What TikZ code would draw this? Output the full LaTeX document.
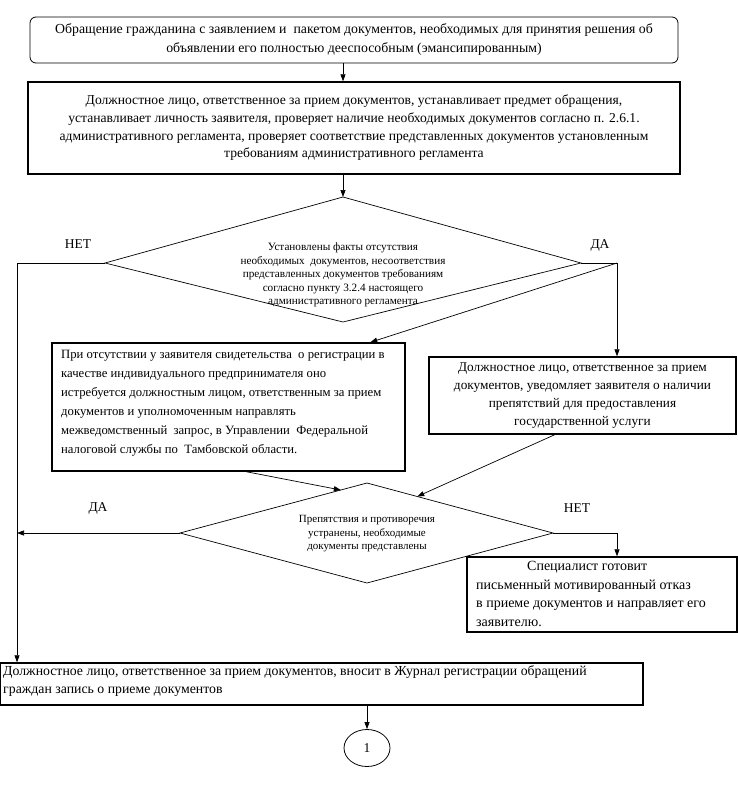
\documentclass[tikz,border=0pt]{standalone}
\usepackage{fontspec}
\setmainfont{Liberation Serif}
\usetikzlibrary{arrows.meta,calc,shapes.geometric}
\begin{document}
\begin{tikzpicture}[x=1pt,y=-1pt,
  conn/.style={line width=0.7pt,-{Triangle[length=7pt,width=5pt]}},
  line/.style={line width=0.7pt},
  boxA/.style={draw,line width=1.4pt,inner sep=0pt},
  tbig/.style={font=\fontsize{12.7}{19}\selectfont},
  lbl/.style={font=\fontsize{13.5}{15}\selectfont}]
\useasboundingbox (0,0) rectangle (738,798);
% top box
\node[draw,rounded corners=6pt,line width=0.8pt,minimum width=648pt,minimum height=46pt,inner sep=0pt,align=center,font=\fontsize{13.8}{19}\selectfont] (top) at (354,40)
  {Обращение гражданина с заявлением и \ пакетом документов, необходимых для принятия решения об\\объявлении его полностью дееспособным (эмансипированным)};
% box 2
\node[boxA,minimum width=652pt,minimum height=92pt,align=center,font=\fontsize{13.6}{17.7}\selectfont] (b2) at (354,128)
  {Должностное лицо, ответственное за прием документов, устанавливает предмет обращения,\\устанавливает личность заявителя, проверяет наличие необходимых документов согласно п. 2.6.1.\\административного регламента, проверяет соответствие представленных документов установленным\\требованиям административного регламента};
% diamond 1
\coordinate (d1t) at (343,197);
\coordinate (d1r) at (581,263);
\coordinate (d1b) at (343,322);
\coordinate (d1l) at (105,263);
\draw[line] (d1t) -- (d1r) -- (d1b) -- (d1l) -- cycle;
\node[align=center,font=\fontsize{11.2}{13.5}\selectfont,inner sep=0pt] (d1) at (343,275)
  {Установлены факты отсутствия\\необходимых \ документов, несоответствия\\представленных документов требованиям\\согласно пункту 3.2.4 настоящего\\административного регламента};
\node[lbl] (net1) at (78,244) {НЕТ};
\node[lbl] (da1) at (600,245) {ДА};
% left box
\node[boxA,minimum width=353pt,minimum height=128pt] (lb) at (228.5,407) {};
\node[align=left,tbig,inner sep=0pt,anchor=west] (lbt) at (61,403.5)
  {При отсутствии у заявителя свидетельства \ о регистрации в\\качестве индивидуального предпринимателя оно\\истребуется должностным лицом, ответственным за прием\\документов и уполномоченным направлять\\межведомственный \ запрос, в Управлении \ Федеральной\\налоговой службы по \ Тамбовской области.};
% right box
\node[boxA,minimum width=307pt,minimum height=77pt,align=center,font=\fontsize{13.3}{18}\selectfont] (rb) at (582.5,395.5)
  {Должностное лицо, ответственное за прием\\документов, уведомляет заявителя о наличии\\препятствий для предоставления\\государственной услуги};
% diamond 2
\coordinate (d2t) at (367,483);
\coordinate (d2r) at (553,533);
\coordinate (d2b) at (367,583);
\coordinate (d2l) at (180,533);
\draw[line] (d2t) -- (d2r) -- (d2b) -- (d2l) -- cycle;
\node[align=center,font=\fontsize{11}{13.5}\selectfont,inner sep=0pt] (d2) at (367,534)
  {Препятствия и противоречия\\устранены, необходимые\\документы представлены};
\node[lbl] (da2) at (98,508) {ДА};
\node[lbl] (net2) at (577,508) {НЕТ};
% specialist box
\node[boxA,minimum width=270pt,minimum height=75pt] (sp) at (602,594.5) {};
\node[align=left,font=\fontsize{14}{18.8}\selectfont,inner sep=0pt,anchor=west] (spt) at (476,594)
  {\hspace*{51pt}Специалист готовит\\письменный мотивированный отказ\\в приеме документов и направляет его\\заявителю.};
% final box
\node[boxA,minimum width=643pt,minimum height=42pt] (fb) at (321.5,684) {};
\node[align=left,font=\fontsize{13.8}{18}\selectfont,inner sep=0pt,anchor=west] (fbt) at (3,681)
  {Должностное лицо, ответственное за прием документов, вносит в Журнал регистрации обращений\\граждан запись о приеме документов};
% circle
\node[draw,ellipse,line width=0.8pt,minimum width=46pt,minimum height=37pt,inner sep=0pt,font=\fontsize{13.5}{15}\selectfont] (c1) at (367,748) {1};
% coordinates
\coordinate (nl) at (17,263);
\coordinate (nr) at (617,263);
\coordinate (n2) at (617,533);
% connectors
\draw[conn] (top.south -| 343,0) -- (b2.north -| 343,0);
\draw[conn] (b2.south -| d1t) -- (d1t);
\draw[conn] (d1l) -- (nl) -- (nl |- fb.north);
\draw[conn] (d1r) -- (nr) -- (nr |- rb.north);
\draw[conn] (nr) -- ($(lb.north west)!0.9!(lb.north east)$);
\draw[conn] ($(lb.south west)!0.55!(lb.south east)$) -- ($(d2l)!0.86!(d2t)$);
\draw[conn] ($(rb.south west)!0.41!(rb.south east)$) -- ($(d2t)!0.27!(d2r)$);
\draw[conn] (d2l) -- (d2l -| nl);
\draw[conn] (d2r) -- (n2) -- (n2 |- sp.north);
\draw[conn] (c1 |- fb.south) -- (c1);
\end{tikzpicture}
\end{document}
